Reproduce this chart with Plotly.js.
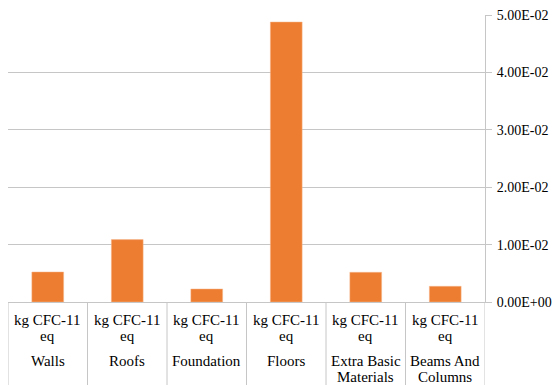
<!DOCTYPE html>
<html>
<head>
<meta charset="utf-8">
<script src="https://cdn.plot.ly/plotly-3.0.1.min.js"></script>
<style>
  html, body { margin: 0; padding: 0; background: #ffffff; }
  #chart { width: 553px; height: 385px; }
  #chart text { font-family: "Liberation Serif", "Times New Roman", serif !important; }
</style>
</head>
<body>
<div id="chart"></div>
<script>
// Ozone depletion potential per building element
var categories = ["Walls", "Roofs", "Foundation", "Floors", "Extra Basic Materials", "Beams And Columns"];
var categoryLines = [["Walls"], ["Roofs"], ["Foundation"], ["Floors"], ["Extra Basic", "Materials"], ["Beams And", "Columns"]];
var unitLines = ["kg CFC-11", "eq"];
var values = [0.00523, 0.01087, 0.00227, 0.04878, 0.00518, 0.00274];
var yTickVals = [0, 0.01, 0.02, 0.03, 0.04, 0.05];

// Excel-style scientific labels, e.g. 5.00E-02
function sci(v) {
  var s = v.toExponential(2);
  var parts = s.split("e");
  var sign = parts[1].charAt(0);
  var exp = parts[1].slice(1);
  if (exp.length < 2) exp = "0" + exp;
  return parts[0] + "E" + sign + exp;
}
var yTickText = yTickVals.map(sci);

var W = 553, H = 385;
var M = { l: 8, r: 68, t: 15, b: 83 };
var plotH = H - M.t - M.b;
function paperY(px) { return (H - M.b - px) / plotH; }

var FONT = "Liberation Serif";
var GRID = "#c6c6c6";

var annotations = [];
var shapes = [];
categories.forEach(function (c, i) {
  unitLines.forEach(function (t, k) {
    annotations.push({
      x: i, xref: "x", y: paperY(320 + 16 * k), yref: "paper",
      text: t, showarrow: false, xanchor: "center", yanchor: "middle",
      font: { family: FONT, size: 15, color: "#000000" }
    });
  });
  categoryLines[i].forEach(function (t, k) {
    annotations.push({
      x: i, xref: "x", y: paperY(361 + 16 * k), yref: "paper",
      text: t, showarrow: false, xanchor: "center", yanchor: "middle",
      font: { family: FONT, size: 15, color: "#000000" }
    });
  });
});
// category dividers running below the axis
for (var j = 0; j <= categories.length; j++) {
  shapes.push({
    type: "line", xref: "x", yref: "paper",
    x0: j - 0.5, x1: j - 0.5, y0: 0, y1: paperY(H),
    line: { color: GRID, width: 1 }
  });
}

var trace = {
  type: "bar",
  x: categories,
  y: values,
  marker: { color: "#ED7D31", line: { color: "#f6b98e", width: 0.5 } },
  hoverinfo: "x+y"
};

var layout = {
  width: W, height: H,
  margin: M,
  paper_bgcolor: "#ffffff",
  plot_bgcolor: "#ffffff",
  showlegend: false,
  bargap: 0.6,
  font: { family: FONT, size: 14, color: "#000000" },
  xaxis: {
    type: "category",
    range: [-0.5, categories.length - 0.5],
    showticklabels: false,
    ticks: "",
    showgrid: false,
    showline: true, linecolor: GRID, linewidth: 1,
    zeroline: false, fixedrange: true
  },
  yaxis: {
    side: "right",
    range: [0, 0.05],
    tickvals: yTickVals,
    ticktext: yTickText,
    ticks: "outside", ticklen: 6, tickcolor: GRID, tickwidth: 1,
    ticklabelstandoff: 2,
    showline: true, linecolor: GRID, linewidth: 1,
    showgrid: true, gridcolor: GRID, gridwidth: 1,
    zeroline: false, fixedrange: true,
    tickfont: { family: FONT, size: 14, color: "#000000" }
  },
  annotations: annotations,
  shapes: shapes
};

Plotly.newPlot("chart", [trace], layout, { displayModeBar: false, staticPlot: true });
</script>
</body>
</html>
